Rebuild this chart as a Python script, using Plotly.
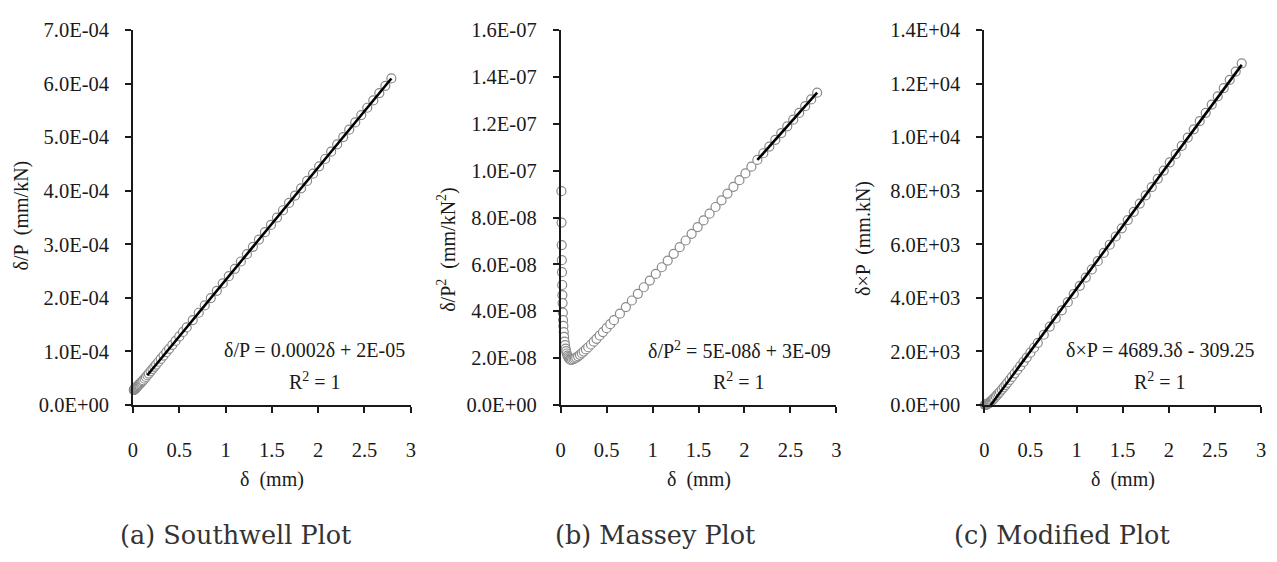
import numpy as np
import plotly.graph_objects as go

# ---------------- data ----------------
deflection_mm = [
    0.0086, 0.0103, 0.012, 0.0135, 0.015, 0.017, 0.019, 0.021, 0.024, 0.027,
    0.030, 0.034, 0.038, 0.043, 0.048, 0.054, 0.060, 0.067, 0.075, 0.083,
    0.092, 0.101, 0.110, 0.125, 0.14, 0.155, 0.17, 0.19, 0.21, 0.23,
    0.25, 0.275, 0.30, 0.33, 0.36, 0.39, 0.425, 0.46, 0.50, 0.54,
    0.58, 0.645, 0.71, 0.775, 0.84, 0.905, 0.97, 1.035, 1.10, 1.165,
    1.23, 1.295, 1.36, 1.425, 1.49, 1.555, 1.62, 1.685, 1.75, 1.815,
    1.88, 1.945, 2.01, 2.075, 2.14, 2.205, 2.27, 2.335, 2.40, 2.465,
    2.53, 2.595, 2.66, 2.725, 2.79,
]
# Southwell ordinate delta/P (mm/kN)
delta_over_P = [
    2.802e-5, 2.832e-5, 2.862e-5, 2.889e-5, 2.916e-5, 2.951e-5, 2.986e-5, 3.022e-5, 3.075e-5, 3.128e-5,
    3.181e-5, 3.252e-5, 3.323e-5, 3.411e-5, 3.500e-5, 3.606e-5, 3.712e-5, 3.836e-5, 3.978e-5, 4.119e-5,
    4.278e-5, 4.438e-5, 4.597e-5, 4.916e-5, 5.232e-5, 5.547e-5, 5.863e-5, 6.284e-5, 6.704e-5, 7.125e-5,
    7.546e-5, 8.072e-5, 8.598e-5, 9.229e-5, 9.860e-5, 1.0492e-4, 1.1228e-4, 1.1964e-4, 1.2806e-4, 1.3648e-4,
    1.4489e-4, 1.5857e-4, 1.7224e-4, 1.8592e-4, 1.9960e-4, 2.1327e-4, 2.2695e-4, 2.4062e-4, 2.5430e-4, 2.6798e-4,
    2.8165e-4, 2.9533e-4, 3.0900e-4, 3.2268e-4, 3.3636e-4, 3.5003e-4, 3.6371e-4, 3.7738e-4, 3.9106e-4, 4.0474e-4,
    4.1841e-4, 4.3209e-4, 4.4576e-4, 4.5944e-4, 4.7312e-4, 4.8679e-4, 5.0047e-4, 5.1414e-4, 5.2782e-4, 5.4150e-4,
    5.5517e-4, 5.6885e-4, 5.8252e-4, 5.9620e-4, 6.0988e-4,
]

# trend-line fitting ranges (mm) for each panel
fit_range_a = [0.155, 2.79]
fit_range_b = [2.14, 2.79]
fit_range_c = [0.067, 2.79]

equation_a = "δ/P = 0.0002δ + 2E-05"
equation_b = "δ/P<sup>2</sup> = 5E-08δ + 3E-09"
equation_c = "δ×P = 4689.3δ - 309.25"
r2_text = "R<sup>2</sup> = 1"

x_tickvals = [0, 0.5, 1, 1.5, 2, 2.5, 3]
x_ticktext = ["0", "0.5", "1", "1.5", "2", "2.5", "3"]

ya_tickvals = [0, 1e-4, 2e-4, 3e-4, 4e-4, 5e-4, 6e-4, 7e-4]
ya_ticktext = ["0.0E+00", "1.0E-04", "2.0E-04", "3.0E-04", "4.0E-04", "5.0E-04", "6.0E-04", "7.0E-04"]
yb_tickvals = [0, 2e-8, 4e-8, 6e-8, 8e-8, 1e-7, 1.2e-7, 1.4e-7, 1.6e-7]
yb_ticktext = ["0.0E+00", "2.0E-08", "4.0E-08", "6.0E-08", "8.0E-08", "1.0E-07", "1.2E-07", "1.4E-07", "1.6E-07"]
yc_tickvals = [0, 2e3, 4e3, 6e3, 8e3, 1e4, 1.2e4, 1.4e4]
yc_ticktext = ["0.0E+00", "2.0E+03", "4.0E+03", "6.0E+03", "8.0E+03", "1.0E+04", "1.2E+04", "1.4E+04"]

captions = ["(a) Southwell Plot", "(b) Massey Plot", "(c) Modified Plot"]
y_titles = ["δ/P  (mm/kN)", "δ/P<sup>2</sup>  (mm/kN<sup>2</sup>)", "δ×P  (mm.kN)"]
x_title = "δ  (mm)"

# ---------------- derived series ----------------
d = np.array(deflection_mm)
sw = np.array(delta_over_P)
load = d / sw                 # P (kN)
massey = d / load ** 2        # delta/P^2
modified = d * load           # delta*P

W, H = 1277, 562
TXT = "#1a1a1a"
SERIF = "Liberation Serif"
TICK_FONT = dict(family=SERIF, size=20.5, color=TXT)

fig = go.Figure()

def add_panel(i, yvals, fit_rng):
    xa = "x" if i == 0 else f"x{i+1}"
    ya = "y" if i == 0 else f"y{i+1}"
    fig.add_trace(go.Scatter(
        x=d, y=yvals, mode="markers", xaxis=xa, yaxis=ya, cliponaxis=False,
        marker=dict(symbol="circle", size=9, color="white",
                    line=dict(color="#8a8a8a", width=1.2)),
        showlegend=False, hoverinfo="x+y"))
    m = (d >= fit_rng[0] - 1e-9) & (d <= fit_rng[1] + 1e-9)
    k, c = np.polyfit(d[m], yvals[m], 1)
    xs = np.array([d[m].min(), d[m].max()])
    fig.add_trace(go.Scatter(
        x=xs, y=k * xs + c, mode="lines", xaxis=xa, yaxis=ya, cliponaxis=False,
        line=dict(color="black", width=2.6), showlegend=False, hoverinfo="skip"))

add_panel(0, sw, fit_range_a)
add_panel(1, massey, fit_range_b)
add_panel(2, modified, fit_range_c)

# plot-area pixel positions
x_px = [(129, 409), (560, 838), (987, 1266)]
y_top, y_bot = 20, 410
ydom = [1 - y_bot / H, 1 - y_top / H]

yvals_list = [(ya_tickvals, ya_ticktext, [0, 7e-4]),
              (yb_tickvals, yb_ticktext, [0, 1.6e-7]),
              (yc_tickvals, yc_ticktext, [0, 1.4e4])]

layout_axes = {}
for i in range(3):
    sx = "" if i == 0 else str(i + 1)
    layout_axes[f"xaxis{sx}"] = dict(
        domain=[x_px[i][0] / W, x_px[i][1] / W], range=[0, 3],
        tickmode="array", tickvals=x_tickvals, ticktext=x_ticktext,
        anchor=f"y{sx}", ticklabelstandoff=20)
    tv, tt, rg = yvals_list[i]
    layout_axes[f"yaxis{sx}"] = dict(
        domain=ydom, range=rg, tickmode="array", tickvals=tv, ticktext=tt,
        anchor=f"x{sx}", ticklabelstandoff=12)

annotations = []
def ann(x, y, text, size=20, family=SERIF, color=TXT, angle=0):
    annotations.append(dict(x=x / W, y=1 - y / H, xref="paper", yref="paper",
                            xanchor="center", yanchor="middle", text=text,
                            textangle=angle, showarrow=False,
                            font=dict(family=family, size=size, color=color)))

ytitle_pos = [(17, 213), (445, 248), (866, 237)]
for i in range(3):
    xc = (x_px[i][0] + x_px[i][1]) / 2
    ann(xc, 488, x_title)
    ann(ytitle_pos[i][0], ytitle_pos[i][1], y_titles[i], angle=-90)

eq_pos = [(312, equation_a), (740, equation_b), (1164, equation_c)]
for xc, txt in eq_pos:
    ann(xc, 353, txt)
    ann(xc, 385, r2_text)

cap_x = [233, 656, 1065]
for xc, txt in zip(cap_x, captions):
    ann(xc, 545, txt, size=25.5, family="DejaVu Serif", color="#333333")

fig.update_layout(
    width=W, height=H, margin=dict(l=0, r=0, t=0, b=0),
    paper_bgcolor="white", plot_bgcolor="white",
    font=dict(family=SERIF, size=19, color=TXT),
    annotations=annotations, **layout_axes)

fig.update_xaxes(showline=True, linecolor=TXT, linewidth=1.6, ticks="outside",
                 ticklen=6, tickwidth=1.6, tickcolor=TXT, showgrid=False,
                 zeroline=False, tickfont=TICK_FONT)
fig.update_yaxes(showline=True, linecolor=TXT, linewidth=1.6, ticks="outside",
                 ticklen=6, tickwidth=1.6, tickcolor=TXT, showgrid=False,
                 zeroline=False, tickfont=TICK_FONT)

fig.write_html("out.html")
